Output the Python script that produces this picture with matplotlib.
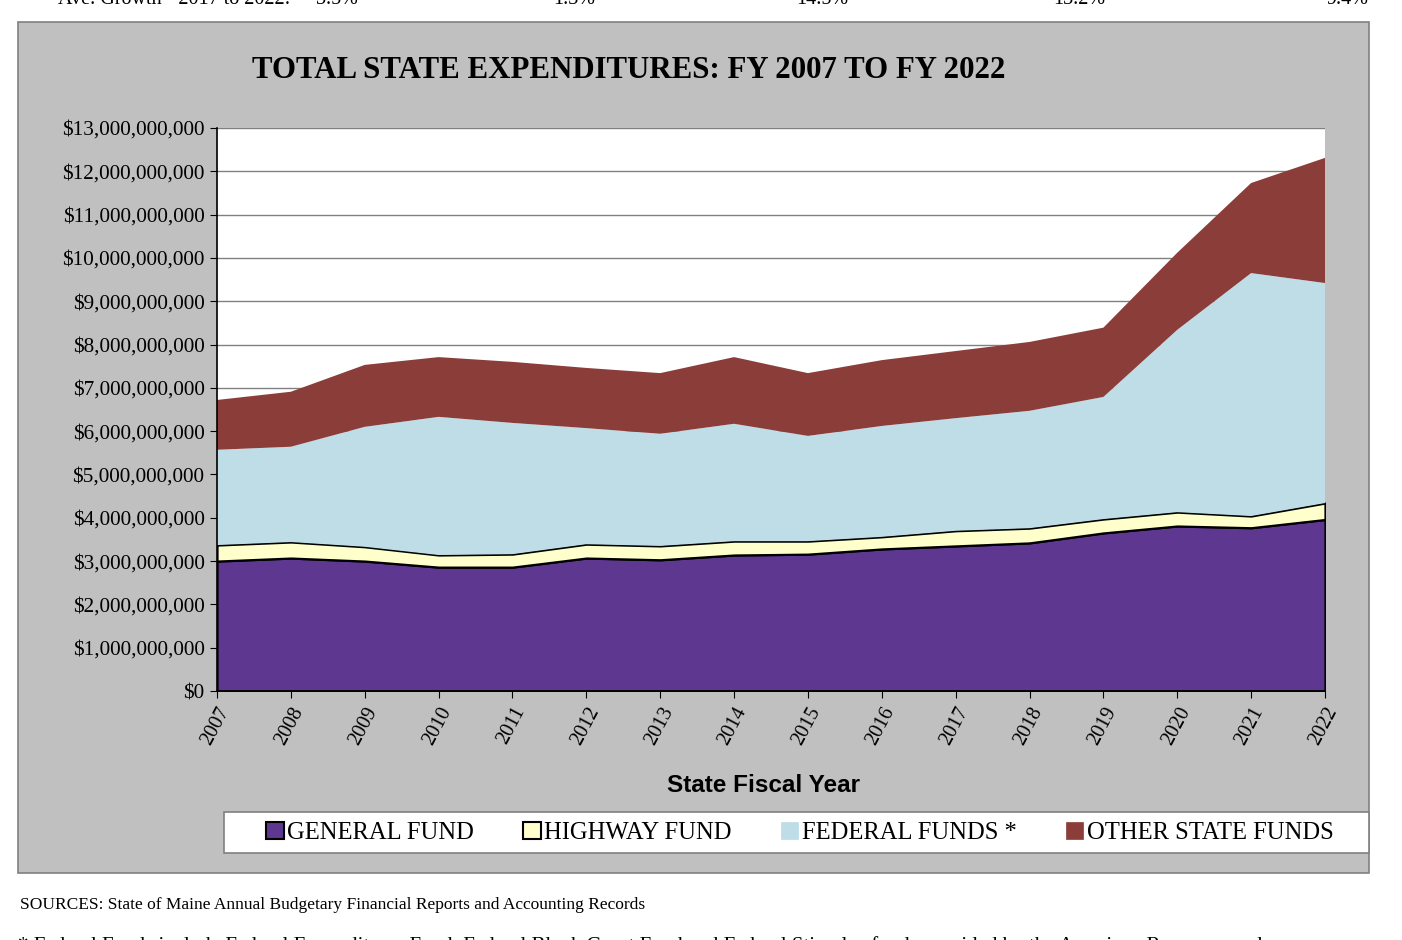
#!/usr/bin/env python3

import matplotlib
matplotlib.use("Agg")
import matplotlib.pyplot as plt
from matplotlib.patches import Rectangle, Patch
from matplotlib.ticker import FuncFormatter, MultipleLocator

YEARS = list(range(2007, 2023))

# values in billions of dollars
GENERAL_FUND = [3.00, 3.07, 3.00, 2.86, 2.86, 3.07, 3.03, 3.14, 3.16, 3.28, 3.35, 3.42, 3.65, 3.81, 3.77, 3.96]
HIGHWAY_FUND = [0.37, 0.37, 0.33, 0.28, 0.30, 0.32, 0.32, 0.32, 0.30, 0.28, 0.35, 0.34, 0.32, 0.32, 0.27, 0.38]
FEDERAL_FUNDS = [2.20, 2.20, 2.77, 3.19, 3.03, 2.68, 2.59, 2.71, 2.43, 2.56, 2.60, 2.71, 2.82, 4.21, 5.61, 5.08]
OTHER_STATE_FUNDS = [1.15, 1.27, 1.43, 1.38, 1.41, 1.39, 1.40, 1.54, 1.45, 1.52, 1.55, 1.59, 1.60, 1.78, 2.08, 2.89]

SERIES_NAMES = ["GENERAL FUND", "HIGHWAY FUND", "FEDERAL FUNDS *", "OTHER STATE FUNDS"]
COLORS = ["#5e3791", "#ffffcc", "#bedde6", "#8b3d3a"]
EDGED = [True, True, False, False]

GROWTH_LABEL = "Ave. Growth - 2017 to 2022:"
GROWTH_VALUES = ["3.5%", "1.3%", "14.5%", "13.2%", "9.4%"]

SERIF = ["Liberation Serif", "DejaVu Serif"]
SANS = ["Liberation Sans", "DejaVu Sans"]

W, H = 1402, 940
fig = plt.figure(figsize=(W / 100, H / 100), dpi=100)
fig.patch.set_facecolor("white")


def fx(px):
    return px / W


def fy(py):
    return 1 - py / H


# grey chart panel
fig.patches.append(Rectangle((fx(18), fy(873)), fx(1369) - fx(18), fy(22) - fy(873),
                             transform=fig.transFigure, facecolor="#c0c0c0",
                             edgecolor="#808080", lw=1.2, zorder=0))

ax = fig.add_axes([fx(217), fy(691), fx(1325) - fx(217), fy(128) - fy(691)])
ax.set_zorder(2)
ax.set_facecolor("white")

series = [GENERAL_FUND, HIGHWAY_FUND, FEDERAL_FUNDS, OTHER_STATE_FUNDS]
base = [0.0] * len(YEARS)
for vals, color, edged in zip(series, COLORS, EDGED):
    lo = [b * 1e9 for b in base]
    top = [b + v for b, v in zip(base, vals)]
    hi = [t * 1e9 for t in top]
    ax.fill_between(YEARS, lo, hi, facecolor=color,
                    edgecolor="black" if edged else "none",
                    lw=1.6 if edged else 0, zorder=2)
    base = top

ax.set_xlim(2007, 2022)
ax.set_ylim(0, 13e9)
ax.yaxis.set_major_locator(MultipleLocator(1e9))
ax.yaxis.set_major_formatter(FuncFormatter(lambda v, p: f"${v:,.0f}"))
ax.set_xticks(YEARS)
ax.set_xticklabels([str(y) for y in YEARS], rotation=62, ha="right",
                   rotation_mode="anchor", family=SERIF, fontsize=14.5)
for lab in ax.get_yticklabels():
    lab.set_family(SERIF)
    lab.set_fontsize(15.3)

ax.grid(axis="y", color="#808080", lw=1)
ax.set_axisbelow(True)
ax.tick_params(axis="both", direction="out", length=5, color="black", pad=4)
ax.spines["top"].set_visible(False)
ax.spines["right"].set_visible(False)
ax.spines["left"].set_color("black")
ax.spines["bottom"].set_color("black")
ax.spines["left"].set_linewidth(1.2)
ax.spines["bottom"].set_linewidth(1.2)
ax.spines["left"].set_zorder(3)

fig.text(fx(629), fy(70), "TOTAL STATE EXPENDITURES: FY 2007 TO FY 2022",
         ha="center", va="center", family=SERIF, weight="bold", fontsize=22.2)
fig.text(fx(764), fy(785), "State Fiscal Year", ha="center", va="center",
         family=SANS, weight="bold", fontsize=17.5)

# legend box
fig.patches.append(Rectangle((fx(224), fy(853)), fx(1369) - fx(224), fy(812) - fy(853),
                             transform=fig.transFigure, facecolor="white",
                             edgecolor="#808080", lw=1.2, zorder=1))
handles = [Patch(facecolor=c, edgecolor="black" if e else c, lw=1.5 if e else 0.5)
           for c, e in zip(COLORS, EDGED)]
fig.legend(handles, SERIES_NAMES, loc="center", ncol=4, frameon=False,
           bbox_to_anchor=(fx(800), fy(833)), prop={"family": SERIF, "size": 17.7},
           handlelength=0.7, handleheight=0.7, handletextpad=0.15,
           columnspacing=2.0)

# partly cut-off text rows above and below the chart
fig.text(fx(58), fy(4), GROWTH_LABEL, ha="left", va="baseline", family=SERIF, fontsize=14.5)
for xpx, val in zip([358, 595, 848, 1105, 1368], GROWTH_VALUES):
    fig.text(fx(xpx), fy(4), val, ha="right", va="baseline", family=SERIF, fontsize=14.5)

fig.text(fx(20), fy(905), "SOURCES: State of Maine Annual Budgetary Financial Reports and Accounting Records",
         ha="left", va="center", family=SERIF, fontsize=12.5)
fig.text(fx(18), fy(951), "* Federal Funds include Federal Expenditures Fund, Federal Block Grant Fund and "
         "Federal Stimulus funds provided by the American Recovery and",
         ha="left", va="baseline", family=SERIF, fontsize=15)

fig.savefig("out.png", dpi=100)
print("Done.")
